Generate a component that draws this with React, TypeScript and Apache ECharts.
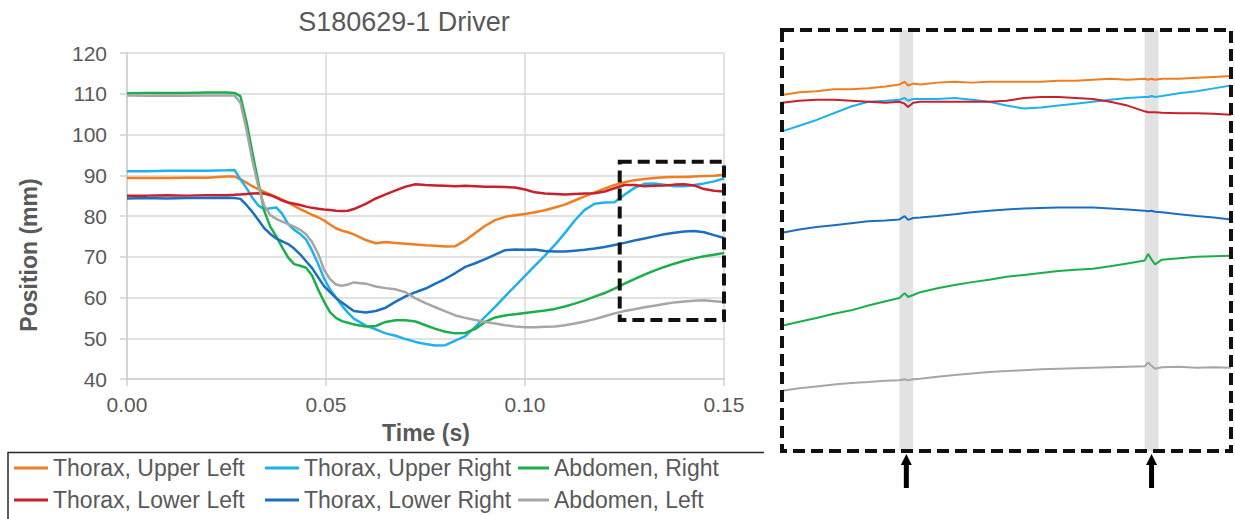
import { useEffect, useRef } from "react";
import * as echarts from "echarts";

const FONT = "'Liberation Sans', Arial, sans-serif";
const TEXT_GREY = "#595959";

// ---- Full record (time in s, position in mm) ----
const TIME = [
  0, 0.005, 0.01, 0.015, 0.02, 0.025, 0.027,
  0.0285, 0.03, 0.0315, 0.033, 0.0345, 0.036, 0.0375, 0.039, 0.0405, 0.042,
  0.0435, 0.045, 0.0465, 0.048, 0.0495, 0.051, 0.0525, 0.054, 0.0555, 0.057,
  0.06, 0.0625, 0.065, 0.0675, 0.07, 0.0725, 0.075, 0.0775, 0.08, 0.0825,
  0.085, 0.0875, 0.09, 0.0925, 0.095, 0.0975, 0.1, 0.1025, 0.105, 0.1075,
  0.11, 0.1125, 0.115, 0.1175, 0.12, 0.1225, 0.125, 0.1275, 0.13, 0.1325,
  0.135, 0.1375, 0.14, 0.1425, 0.145, 0.1475, 0.15,
];

const THORAX_UPPER_LEFT = [
  89.3, 89.3, 89.3, 89.4, 89.4, 89.7, 89.7,
  89.0, 88.2, 87.3, 86.6, 85.9, 85.3, 84.7, 84.0, 83.3, 82.5,
  81.7, 81.0, 80.3, 79.7, 78.9, 77.9, 77.0, 76.4, 76.0, 75.5,
  74.1, 73.3, 73.6, 73.4, 73.2, 73.0, 72.8, 72.7, 72.5, 72.6,
  74.0, 75.8, 77.6, 79.0, 79.8, 80.2, 80.5, 80.9, 81.4, 82.1,
  82.8, 83.8, 84.8, 85.8, 86.7, 87.6, 88.3, 88.8, 89.1, 89.3,
  89.5, 89.6, 89.6, 89.7, 89.8, 89.9, 90.1,
];

const THORAX_UPPER_RIGHT = [
  91.0, 91.0, 91.1, 91.1, 91.1, 91.2, 91.3,
  89.0, 86.9, 84.5, 82.6, 81.6, 81.9, 82.1, 80.5, 78.0, 76.6,
  75.6, 74.2, 71.5, 68.3, 64.7, 62.0, 60.0, 58.0, 56.3, 54.8,
  53.1, 52.2, 51.2, 50.6, 49.8, 49.1, 48.6, 48.2, 48.3, 49.4,
  50.5, 52.8, 55.3, 57.7, 60.3, 62.8, 65.3, 67.8, 70.3, 72.9,
  75.8, 78.9, 81.5, 83.0, 83.3, 83.4, 85.2, 86.9, 87.9, 88.0,
  87.7, 87.3, 87.3, 87.6, 88.0, 88.5, 89.2,
];

const ABDOMEN_RIGHT = [
  110.1, 110.2, 110.2, 110.2, 110.3, 110.3, 110.2,
  109.4, 103.2, 95.6, 88.2, 81.2, 77.4, 75.0, 72.3, 69.8, 68.2,
  67.8, 67.3, 65.4, 62.0, 59.0, 56.4, 55.0, 54.2, 53.8, 53.4,
  52.9, 53.0, 54.0, 54.4, 54.4, 54.1, 53.2, 52.3, 51.6, 51.2,
  51.3, 52.3, 54.0, 55.1, 55.6, 55.9, 56.2, 56.5, 56.8, 57.2,
  57.8, 58.5, 59.3, 60.2, 61.1, 62.2, 63.4, 64.5, 65.6, 66.6,
  67.5, 68.3, 69.0, 69.6, 70.1, 70.5, 70.9,
];

const THORAX_LOWER_LEFT = [
  85.0, 85.0, 85.1, 85.0, 85.1, 85.1, 85.2,
  85.3, 85.4, 85.5, 85.6, 85.5, 85.1, 84.5, 83.8, 83.3, 83.0,
  82.7, 82.3, 82.0, 81.8, 81.6, 81.5, 81.3, 81.2, 81.3, 81.7,
  83.0, 84.3, 85.3, 86.3, 87.2, 87.8, 87.6, 87.5, 87.4, 87.3,
  87.4, 87.3, 87.2, 87.2, 87.1, 87.0, 86.5, 85.8, 85.5, 85.4,
  85.3, 85.4, 85.5, 85.6, 86.0, 86.8, 87.6, 87.6, 87.3, 87.4,
  87.5, 87.7, 87.8, 87.5, 86.6, 86.2, 86.0,
];

const THORAX_LOWER_RIGHT = [
  84.3, 84.4, 84.3, 84.4, 84.4, 84.5, 84.4,
  84.2, 82.7, 81.0, 79.0, 77.0, 75.6, 74.5, 73.8, 73.1, 72.0,
  70.6, 68.9, 67.2, 65.0, 62.8, 61.3, 59.9, 58.8, 57.7, 56.7,
  56.3, 56.7, 57.5, 59.0, 60.3, 61.3, 62.2, 63.4, 64.6, 66.0,
  67.5, 68.4, 69.4, 70.5, 71.6, 71.8, 71.7, 71.8, 71.4, 71.3,
  71.3, 71.5, 71.7, 72.0, 72.4, 72.9, 73.4, 74.0, 74.5, 75.0,
  75.5, 75.9, 76.2, 76.3, 76.0, 75.3, 74.6,
];

const ABDOMEN_LEFT = [
  109.6, 109.5, 109.6, 109.5, 109.6, 109.6, 109.6,
  107.8, 101.3, 93.6, 87.2, 82.5, 80.2, 79.3, 78.6, 78.0, 77.4,
  76.6, 75.5, 73.6, 70.8, 66.8, 64.5, 63.2, 62.9, 63.2, 63.7,
  63.4, 62.7, 62.3, 62.0, 61.3, 59.8, 58.6, 57.6, 56.6, 55.6,
  55.0, 54.5, 54.0, 53.6, 53.2, 52.9, 52.7, 52.7, 52.8, 52.9,
  53.2, 53.6, 54.1, 54.7, 55.4, 56.1, 56.7, 57.1, 57.6, 58.0,
  58.4, 58.8, 59.0, 59.2, 59.3, 59.1, 58.9,
];

// ---- Close-up of the late window ----
const INSET_TIME = [
  0.124, 0.125, 0.126, 0.127, 0.128, 0.129, 0.13,
  0.1308, 0.1311, 0.1313, 0.1316,
  0.132, 0.133, 0.134, 0.135, 0.136, 0.137, 0.138, 0.139, 0.14, 0.141,
  0.142, 0.143, 0.144, 0.145,
  0.1452, 0.1454, 0.1456,
  0.146, 0.147, 0.148, 0.149, 0.15,
];

const INSET_UPPER_LEFT = [
  87.2, 87.5, 87.6, 87.8, 87.8, 87.9, 88.1,
  88.3, 88.6, 88.2, 88.4,
  88.3, 88.5, 88.6, 88.5, 88.6, 88.6, 88.6, 88.6, 88.7, 88.7,
  88.8, 88.9, 88.8, 88.9,
  88.8, 88.9, 88.8,
  88.9, 88.9, 89.0, 89.1, 89.2,
];

const INSET_UPPER_RIGHT = [
  83.4, 84.0, 84.6, 85.3, 86.0, 86.5, 86.6,
  86.7, 86.9, 86.6, 86.8,
  86.8, 86.8, 86.9, 86.7, 86.5, 86.1, 85.8, 85.9, 86.1, 86.3,
  86.5, 86.7, 86.9, 87.0,
  87.0, 87.1, 87.0,
  87.1, 87.4, 87.6, 87.9, 88.2,
];

const INSET_ABDOMEN_RIGHT = [
  63.1, 63.5, 63.9, 64.35, 64.7, 65.2, 65.65,
  66.0, 66.5, 66.1, 66.3,
  66.6, 67.0, 67.35, 67.65, 67.9, 68.2, 68.4, 68.6, 68.8, 68.95,
  69.05, 69.3, 69.6, 69.9,
  70.6, 70.0, 69.5,
  70.0, 70.15, 70.3, 70.35, 70.4,
];

const INSET_LOWER_LEFT = [
  86.4, 86.6, 86.7, 86.7, 86.6, 86.5, 86.4,
  86.5, 86.3, 85.95, 86.4,
  86.5, 86.5, 86.5, 86.5, 86.5, 86.6, 86.9, 87.0, 87.0, 86.9,
  86.8, 86.5, 86.1, 85.5,
  85.4, 85.4, 85.4,
  85.35, 85.3, 85.3, 85.25, 85.15,
];

const INSET_LOWER_RIGHT = [
  72.8, 73.15, 73.4, 73.6, 73.8, 74.0, 74.1,
  74.2, 74.55, 74.15, 74.35,
  74.4, 74.55, 74.75, 74.95, 75.1, 75.25, 75.35, 75.4, 75.45, 75.45,
  75.45, 75.35, 75.25, 75.1,
  75.05, 75.1, 75.0,
  74.95, 74.75, 74.55, 74.4, 74.2,
];

const INSET_ABDOMEN_LEFT = [
  56.3, 56.55, 56.75, 56.95, 57.1, 57.2, 57.35,
  57.4, 57.5, 57.4, 57.5,
  57.55, 57.75, 57.95, 58.1, 58.25, 58.35, 58.45, 58.55, 58.6, 58.65,
  58.7, 58.75, 58.8, 58.85,
  59.25, 58.9, 58.6,
  58.75, 58.8, 58.7, 58.75, 58.7,
];

const SERIES_NAMES = [
  "Thorax, Upper Left",
  "Thorax, Upper Right",
  "Abdomen, Right",
  "Thorax, Lower Left",
  "Thorax, Lower Right",
  "Abdomen, Left",
];
const SERIES_COLORS = ["#F07D22", "#1FB1EC", "#1BAF4A", "#C9202C", "#1C6FC0", "#A6A6A6"];

const MAIN_VALUES = [
  THORAX_UPPER_LEFT, THORAX_UPPER_RIGHT, ABDOMEN_RIGHT,
  THORAX_LOWER_LEFT, THORAX_LOWER_RIGHT, ABDOMEN_LEFT,
];
const INSET_VALUES = [
  INSET_UPPER_LEFT, INSET_UPPER_RIGHT, INSET_ABDOMEN_RIGHT,
  INSET_LOWER_LEFT, INSET_LOWER_RIGHT, INSET_ABDOMEN_LEFT,
];

// Window outlined on the main plot and its close-up ranges
const ZOOM_WINDOW_T = [0.1238, 0.15];
const ZOOM_WINDOW_V = [54.5, 93.3];
const INSET_T_RANGE = [0.124, 0.15];
const INSET_V_RANGE = [50, 94];
// Short events highlighted in the close-up
const EVENT_BANDS = [
  [0.1308, 0.1316],
  [0.145, 0.1458],
];

// Legend slots: icon left, row top, icon width
const LEGEND_SLOTS = [
  { left: 14, top: 455, w: 34 },
  { left: 265, top: 455, w: 34 },
  { left: 518, top: 455, w: 31 },
  { left: 14, top: 487, w: 34 },
  { left: 265, top: 487, w: 34 },
  { left: 518, top: 487, w: 31 },
];

export default function App() {
  const ref = useRef<HTMLDivElement>(null);

  useEffect(() => {
    const el = ref.current;
    if (!el) return;
    const chart = echarts.init(el, null, { renderer: "svg" });

    const mainSeries = MAIN_VALUES.map((vals, i) => ({
      name: SERIES_NAMES[i],
      type: "line",
      xAxisIndex: 0,
      yAxisIndex: 0,
      data: TIME.map((t, k) => [t, vals[k]]),
      symbol: "none",
      showSymbol: false,
      silent: true,
      lineStyle: { width: 2.5, color: SERIES_COLORS[i] },
      itemStyle: { color: SERIES_COLORS[i] },
      z: 3,
    }));

    const insetSeries = INSET_VALUES.map((vals, i) => ({
      name: SERIES_NAMES[i],
      type: "line",
      xAxisIndex: 1,
      yAxisIndex: 1,
      data: INSET_TIME.map((t, k) => [t, vals[k]]),
      symbol: "none",
      showSymbol: false,
      silent: true,
      lineStyle: { width: 2, color: SERIES_COLORS[i] },
      itemStyle: { color: SERIES_COLORS[i] },
      z: 3,
    }));

    const bandSeries = {
      type: "line",
      xAxisIndex: 1,
      yAxisIndex: 1,
      data: [],
      silent: true,
      z: 1,
      markArea: {
        silent: true,
        itemStyle: { color: "#e2e2e2" },
        data: EVENT_BANDS.map(([a, b]) => [{ xAxis: a }, { xAxis: b }]),
      },
    };

    const axisGrey = "#d0d0d0";
    const option: any = {
      animation: false,
      backgroundColor: "#ffffff",
      textStyle: { fontFamily: FONT },
      grid: [
        { left: 127, top: 53, width: 597, height: 326 },
        { left: 782, top: 30, width: 449, height: 421 },
      ],
      xAxis: [
        {
          type: "value",
          gridIndex: 0,
          min: 0,
          max: 0.15,
          interval: 0.05,
          axisLine: { show: true, lineStyle: { color: axisGrey, width: 1.5 } },
          axisTick: { show: true, length: 7, lineStyle: { color: axisGrey, width: 1.5 } },
          axisLabel: {
            fontSize: 21,
            color: TEXT_GREY,
            fontFamily: FONT,
            margin: 15,
            formatter: (v: number) => v.toFixed(2),
          },
          splitLine: { show: true, lineStyle: { color: "#d9d9d9", width: 1.5 } },
        },
        {
          type: "value",
          gridIndex: 1,
          min: INSET_T_RANGE[0],
          max: INSET_T_RANGE[1],
          show: false,
          splitLine: { show: false },
        },
      ],
      yAxis: [
        {
          type: "value",
          gridIndex: 0,
          min: 40,
          max: 120,
          interval: 10,
          axisLine: { show: true, lineStyle: { color: axisGrey, width: 1.5 } },
          axisTick: { show: true, length: 7, lineStyle: { color: axisGrey, width: 1.5 } },
          axisLabel: { fontSize: 21, color: TEXT_GREY, fontFamily: FONT, margin: 20 },
          splitLine: { show: true, lineStyle: { color: "#d9d9d9", width: 1.5 } },
        },
        {
          type: "value",
          gridIndex: 1,
          min: INSET_V_RANGE[0],
          max: INSET_V_RANGE[1],
          show: false,
          splitLine: { show: false },
        },
      ],
      legend: SERIES_NAMES.map((name, i) => ({
        data: [name],
        left: LEGEND_SLOTS[i].left,
        top: LEGEND_SLOTS[i].top,
        itemWidth: LEGEND_SLOTS[i].w,
        itemHeight: 3,
        icon: "rect",
        padding: 0,
        itemGap: 0,
        selectedMode: false,
        textStyle: { fontSize: 23, color: TEXT_GREY, fontFamily: FONT, lineHeight: 26 },
      })),
      series: [...mainSeries, bandSeries, ...insetSeries],
    };

    chart.setOption(option);

    // Annotations positioned from data coordinates
    const a0 = chart.convertToPixel({ gridIndex: 0 }, [ZOOM_WINDOW_T[0], ZOOM_WINDOW_V[1]]) as number[];
    const a1 = chart.convertToPixel({ gridIndex: 0 }, [ZOOM_WINDOW_T[1], ZOOM_WINDOW_V[0]]) as number[];
    const b0 = chart.convertToPixel({ gridIndex: 1 }, [INSET_T_RANGE[0], INSET_V_RANGE[1]]) as number[];
    const b1 = chart.convertToPixel({ gridIndex: 1 }, [INSET_T_RANGE[1], INSET_V_RANGE[0]]) as number[];

    const dashed = { fill: "none", stroke: "#111111", lineWidth: 4, lineDash: [12, 6] };

    const arrows = EVENT_BANDS.map(([a, b]) => {
      const x = chart.convertToPixel({ xAxisIndex: 1 }, (a + b) / 2) as number;
      const tip = b1[1] + 3;
      return {
        type: "polygon",
        silent: true,
        z: 100,
        shape: {
          points: [
            [x, tip],
            [x + 5.5, tip + 11],
            [x + 2.5, tip + 11],
            [x + 2.5, tip + 34],
            [x - 2.5, tip + 34],
            [x - 2.5, tip + 11],
            [x - 5.5, tip + 11],
          ],
        },
        style: { fill: "#000000" },
      };
    });

    chart.setOption({
      graphic: [
        {
          type: "text",
          x: 404,
          y: 22,
          silent: true,
          style: {
            text: "S180629-1 Driver",
            fontSize: 27,
            fontFamily: FONT,
            fill: TEXT_GREY,
            align: "center",
            verticalAlign: "middle",
          },
        },
        {
          type: "text",
          x: 426,
          y: 433,
          silent: true,
          style: {
            text: "Time (s)",
            fontSize: 23,
            fontWeight: "bold",
            fontFamily: FONT,
            fill: TEXT_GREY,
            align: "center",
            verticalAlign: "middle",
          },
        },
        {
          type: "text",
          x: 29,
          y: 255,
          rotation: Math.PI / 2,
          silent: true,
          style: {
            text: "Position (mm)",
            fontSize: 23,
            fontWeight: "bold",
            fontFamily: FONT,
            fill: TEXT_GREY,
            align: "center",
            verticalAlign: "middle",
          },
        },
        {
          type: "rect",
          silent: true,
          z: 100,
          shape: { x: a0[0], y: a0[1], width: a1[0] - a0[0], height: a1[1] - a0[1] },
          style: dashed,
        },
        {
          type: "rect",
          silent: true,
          z: 100,
          shape: { x: b0[0], y: b0[1], width: b1[0] - b0[0], height: b1[1] - b0[1] },
          style: dashed,
        },
        ...arrows,
        {
          type: "polyline",
          silent: true,
          z: 50,
          shape: { points: [[8, 530], [8, 452.5], [764, 452.5]] },
          style: { fill: "none", stroke: "#262626", lineWidth: 1.5 },
        },
      ],
    });

    return () => {
      chart.dispose();
    };
  }, []);

  return (
    <div style={{ position: "fixed", left: 0, top: 0, width: 1235, height: 519, background: "#fff" }}>
      <div ref={ref} style={{ width: 1235, height: 519 }} />
    </div>
  );
}
